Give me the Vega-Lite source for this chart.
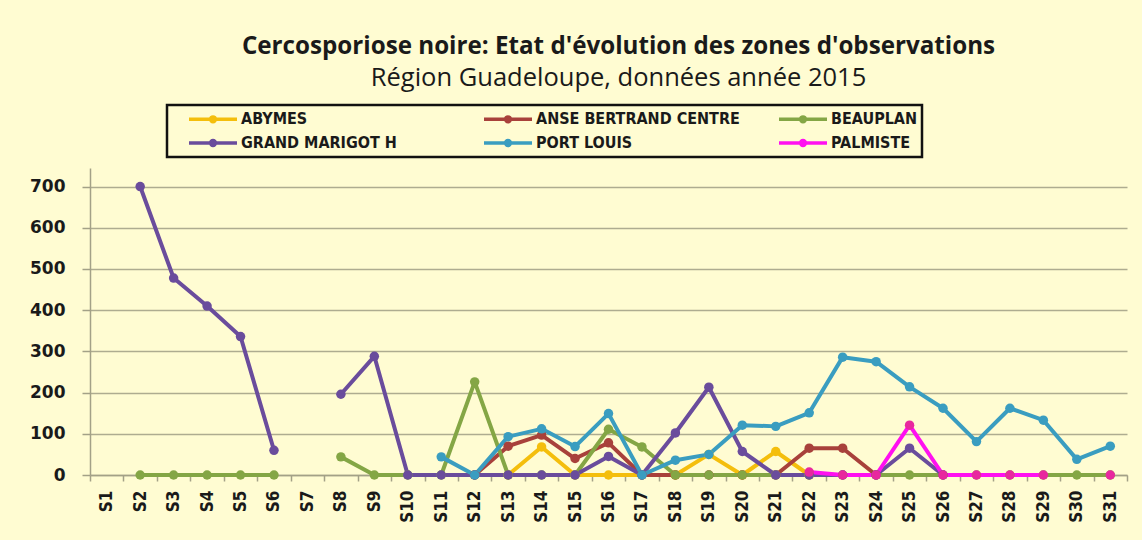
{
  "$schema": "https://vega.github.io/schema/vega-lite/v6.json",
  "width": 1037,
  "height": 307,
  "autosize": {"type": "none"},
  "padding": {"left": 90, "top": 168, "right": 15, "bottom": 65},
  "background": "#FFFCD2",
  "title": {
    "text": "Cercosporiose noire: Etat d'évolution des zones d'observations",
    "subtitle": "Région Guadeloupe, données année 2015",
    "anchor": "middle",
    "frame": "group",
    "dx": 10,
    "font": "Open Sans",
    "fontSize": 24.2,
    "fontWeight": "bold",
    "color": "#1a1a1a",
    "subtitleFont": "Open Sans",
    "subtitleFontSize": 25.5,
    "subtitleColor": "#1a1a1a",
    "subtitlePadding": 7,
    "offset": 12
  },
  "config": {
    "view": {"fill": "#FFFCD2", "stroke": null},
    "axis": {
      "domainColor": "#A3A187",
      "domainWidth": 1.5,
      "tickColor": "#A3A187",
      "tickWidth": 1.5,
      "gridColor": "#AEAC90",
      "gridWidth": 1.5,
      "labelColor": "#1a1a1a",
      "title": null
    },
    "legend": {
      "strokeColor": "#111111",
      "strokeWidth": 2.5
    }
  },
  "data": {
    "values": [
      {"week": "S12", "zone": "ABYMES", "value": 0},
      {"week": "S13", "zone": "ABYMES", "value": 0},
      {"week": "S14", "zone": "ABYMES", "value": 68},
      {"week": "S15", "zone": "ABYMES", "value": 0},
      {"week": "S16", "zone": "ABYMES", "value": 0},
      {"week": "S17", "zone": "ABYMES", "value": 0},
      {"week": "S18", "zone": "ABYMES", "value": 0},
      {"week": "S19", "zone": "ABYMES", "value": 50},
      {"week": "S20", "zone": "ABYMES", "value": 0},
      {"week": "S21", "zone": "ABYMES", "value": 57},
      {"week": "S22", "zone": "ABYMES", "value": 0},

      {"week": "S12", "zone": "ANSE BERTRAND CENTRE", "value": 0},
      {"week": "S13", "zone": "ANSE BERTRAND CENTRE", "value": 70},
      {"week": "S14", "zone": "ANSE BERTRAND CENTRE", "value": 97},
      {"week": "S15", "zone": "ANSE BERTRAND CENTRE", "value": 40},
      {"week": "S16", "zone": "ANSE BERTRAND CENTRE", "value": 78},
      {"week": "S17", "zone": "ANSE BERTRAND CENTRE", "value": 0},
      {"week": "S18", "zone": "ANSE BERTRAND CENTRE", "value": 0},
      {"week": "S19", "zone": "ANSE BERTRAND CENTRE", "value": 0},
      {"week": "S20", "zone": "ANSE BERTRAND CENTRE", "value": 0},
      {"week": "S21", "zone": "ANSE BERTRAND CENTRE", "value": 0},
      {"week": "S22", "zone": "ANSE BERTRAND CENTRE", "value": 65},
      {"week": "S23", "zone": "ANSE BERTRAND CENTRE", "value": 65},
      {"week": "S24", "zone": "ANSE BERTRAND CENTRE", "value": 0},

      {"week": "S2", "zone": "BEAUPLAN", "value": 0},
      {"week": "S3", "zone": "BEAUPLAN", "value": 0},
      {"week": "S4", "zone": "BEAUPLAN", "value": 0},
      {"week": "S5", "zone": "BEAUPLAN", "value": 0},
      {"week": "S6", "zone": "BEAUPLAN", "value": 0},
      {"week": "S7", "zone": "BEAUPLAN", "value": null},
      {"week": "S8", "zone": "BEAUPLAN", "value": 44},
      {"week": "S9", "zone": "BEAUPLAN", "value": 0},
      {"week": "S10", "zone": "BEAUPLAN", "value": 0},
      {"week": "S11", "zone": "BEAUPLAN", "value": 0},
      {"week": "S12", "zone": "BEAUPLAN", "value": 226},
      {"week": "S13", "zone": "BEAUPLAN", "value": 0},
      {"week": "S14", "zone": "BEAUPLAN", "value": 0},
      {"week": "S15", "zone": "BEAUPLAN", "value": 0},
      {"week": "S16", "zone": "BEAUPLAN", "value": 111},
      {"week": "S17", "zone": "BEAUPLAN", "value": 68},
      {"week": "S18", "zone": "BEAUPLAN", "value": 0},
      {"week": "S19", "zone": "BEAUPLAN", "value": 0},
      {"week": "S20", "zone": "BEAUPLAN", "value": 0},
      {"week": "S21", "zone": "BEAUPLAN", "value": 0},
      {"week": "S22", "zone": "BEAUPLAN", "value": 0},
      {"week": "S23", "zone": "BEAUPLAN", "value": 0},
      {"week": "S24", "zone": "BEAUPLAN", "value": 0},
      {"week": "S25", "zone": "BEAUPLAN", "value": 0},
      {"week": "S26", "zone": "BEAUPLAN", "value": 0},
      {"week": "S27", "zone": "BEAUPLAN", "value": 0},
      {"week": "S28", "zone": "BEAUPLAN", "value": 0},
      {"week": "S29", "zone": "BEAUPLAN", "value": 0},
      {"week": "S30", "zone": "BEAUPLAN", "value": 0},
      {"week": "S31", "zone": "BEAUPLAN", "value": 0},

      {"week": "S2", "zone": "GRAND MARIGOT H", "value": 700},
      {"week": "S3", "zone": "GRAND MARIGOT H", "value": 478},
      {"week": "S4", "zone": "GRAND MARIGOT H", "value": 410},
      {"week": "S5", "zone": "GRAND MARIGOT H", "value": 336},
      {"week": "S6", "zone": "GRAND MARIGOT H", "value": 60},
      {"week": "S7", "zone": "GRAND MARIGOT H", "value": null},
      {"week": "S8", "zone": "GRAND MARIGOT H", "value": 196},
      {"week": "S9", "zone": "GRAND MARIGOT H", "value": 288},
      {"week": "S10", "zone": "GRAND MARIGOT H", "value": 0},
      {"week": "S11", "zone": "GRAND MARIGOT H", "value": 0},
      {"week": "S12", "zone": "GRAND MARIGOT H", "value": 0},
      {"week": "S13", "zone": "GRAND MARIGOT H", "value": 0},
      {"week": "S14", "zone": "GRAND MARIGOT H", "value": 0},
      {"week": "S15", "zone": "GRAND MARIGOT H", "value": 0},
      {"week": "S16", "zone": "GRAND MARIGOT H", "value": 45},
      {"week": "S17", "zone": "GRAND MARIGOT H", "value": 0},
      {"week": "S18", "zone": "GRAND MARIGOT H", "value": 102},
      {"week": "S19", "zone": "GRAND MARIGOT H", "value": 213},
      {"week": "S20", "zone": "GRAND MARIGOT H", "value": 57},
      {"week": "S21", "zone": "GRAND MARIGOT H", "value": 0},
      {"week": "S22", "zone": "GRAND MARIGOT H", "value": 0},
      {"week": "S23", "zone": "GRAND MARIGOT H", "value": 0},
      {"week": "S24", "zone": "GRAND MARIGOT H", "value": 0},
      {"week": "S25", "zone": "GRAND MARIGOT H", "value": 65},
      {"week": "S26", "zone": "GRAND MARIGOT H", "value": 0},

      {"week": "S11", "zone": "PORT LOUIS", "value": 44},
      {"week": "S12", "zone": "PORT LOUIS", "value": 0},
      {"week": "S13", "zone": "PORT LOUIS", "value": 93},
      {"week": "S14", "zone": "PORT LOUIS", "value": 112},
      {"week": "S15", "zone": "PORT LOUIS", "value": 69},
      {"week": "S16", "zone": "PORT LOUIS", "value": 149},
      {"week": "S17", "zone": "PORT LOUIS", "value": 0},
      {"week": "S18", "zone": "PORT LOUIS", "value": 36},
      {"week": "S19", "zone": "PORT LOUIS", "value": 50},
      {"week": "S20", "zone": "PORT LOUIS", "value": 121},
      {"week": "S21", "zone": "PORT LOUIS", "value": 118},
      {"week": "S22", "zone": "PORT LOUIS", "value": 151},
      {"week": "S23", "zone": "PORT LOUIS", "value": 286},
      {"week": "S24", "zone": "PORT LOUIS", "value": 275},
      {"week": "S25", "zone": "PORT LOUIS", "value": 214},
      {"week": "S26", "zone": "PORT LOUIS", "value": 162},
      {"week": "S27", "zone": "PORT LOUIS", "value": 81},
      {"week": "S28", "zone": "PORT LOUIS", "value": 162},
      {"week": "S29", "zone": "PORT LOUIS", "value": 133},
      {"week": "S30", "zone": "PORT LOUIS", "value": 38},
      {"week": "S31", "zone": "PORT LOUIS", "value": 70},

      {"week": "S22", "zone": "PALMISTE", "value": 7},
      {"week": "S23", "zone": "PALMISTE", "value": 0},
      {"week": "S24", "zone": "PALMISTE", "value": 0},
      {"week": "S25", "zone": "PALMISTE", "value": 121},
      {"week": "S26", "zone": "PALMISTE", "value": 0},
      {"week": "S27", "zone": "PALMISTE", "value": 0},
      {"week": "S28", "zone": "PALMISTE", "value": 0},
      {"week": "S29", "zone": "PALMISTE", "value": 0},
      {"week": "S30", "zone": "PALMISTE", "value": null},
      {"week": "S31", "zone": "PALMISTE", "value": 0}
    ]
  },
  "encoding": {
    "x": {
      "field": "week",
      "type": "ordinal",
      "sort": ["S1","S2","S3","S4","S5","S6","S7","S8","S9","S10","S11","S12","S13","S14","S15","S16","S17","S18","S19","S20","S21","S22","S23","S24","S25","S26","S27","S28","S29","S30","S31"],
      "scale": {
        "type": "band",
        "domain": ["S1","S2","S3","S4","S5","S6","S7","S8","S9","S10","S11","S12","S13","S14","S15","S16","S17","S18","S19","S20","S21","S22","S23","S24","S25","S26","S27","S28","S29","S30","S31"],
        "paddingInner": 0,
        "paddingOuter": 0
      },
      "axis": {
        "labelAngle": 270,
        "labelFont": "Liberation Sans Narrow, DejaVu Sans Condensed, sans-serif",
        "labelFontSize": 17,
        "labelFontWeight": "bold",
        "labelPadding": 9,
        "tickSize": 6,
        "tickBand": "extent",
        "grid": false
      }
    },
    "y": {
      "field": "value",
      "type": "quantitative",
      "scale": {"domain": [0, 745], "nice": false, "zero": true},
      "axis": {
        "values": [0, 100, 200, 300, 400, 500, 600, 700],
        "labelFont": "DejaVu Sans",
        "labelFontSize": 17,
        "labelFontWeight": "bold",
        "labelPadding": 17,
        "tickSize": 8,
        "grid": true
      }
    }
  },
  "layer": [
    {
      "mark": {"type": "line", "strokeWidth": 4, "strokeJoin": "round", "strokeCap": "round"},
      "encoding": {
        "color": {
          "field": "zone",
          "type": "nominal",
          "scale": {
            "domain": ["ABYMES", "ANSE BERTRAND CENTRE", "BEAUPLAN", "GRAND MARIGOT H", "PORT LOUIS", "PALMISTE"],
            "range": ["#F4BE0C", "#A8413B", "#84A645", "#6A4C9C", "#3A9DC0", "#FF10F0"]
          },
          "legend": {
            "orient": "none",
            "legendX": 77,
            "legendY": -63,
            "direction": "horizontal",
            "columns": 3,
            "gridAlign": "all",
            "strokeColor": "#111111",
            "fillColor": "#FFFCD2",
            "padding": 4,
            "symbolOffset": 32,
            "symbolType": "M-3,0H3M-0.3,0a0.3,0.3 0 1,0 0.6,0a0.3,0.3 0 1,0 -0.6,0",
            "symbolSize": 256,
            "symbolStrokeWidth": 3.5,
            "labelFont": "Liberation Sans Narrow, DejaVu Sans Condensed, sans-serif",
            "labelFontSize": 16,
            "labelFontWeight": "bold",
            "labelColor": "#1a1a1a",
            "labelOffset": 18,
            "labelLimit": 300,
            "columnPadding": 21,
            "rowPadding": 4,
            "title": null
          }
        }
      }
    },
    {
      "mark": {"type": "point", "filled": true, "size": 90, "opacity": 1},
      "encoding": {
        "fill": {
          "field": "zone",
          "type": "nominal",
          "legend": null,
          "scale": {
            "domain": ["ABYMES", "ANSE BERTRAND CENTRE", "BEAUPLAN", "GRAND MARIGOT H", "PORT LOUIS", "PALMISTE"],
            "range": ["#F4BE0C", "#A8413B", "#84A645", "#6A4C9C", "#3A9DC0", "#E8289E"]
          }
        }
      }
    }
  ]
}
